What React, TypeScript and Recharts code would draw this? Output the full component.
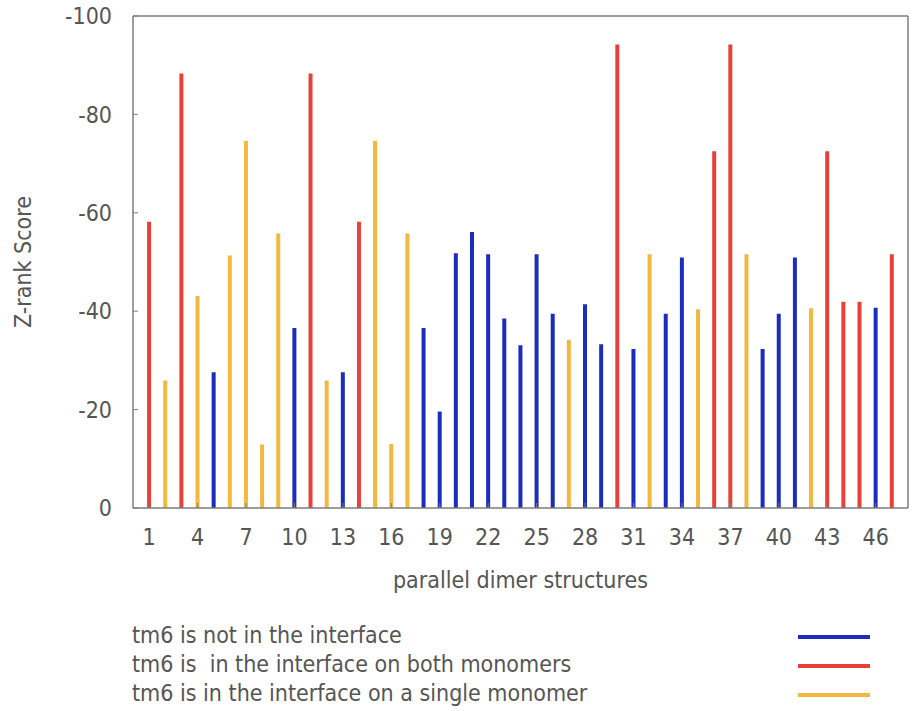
import { BarChart, Bar, Cell, XAxis, YAxis, Legend } from "recharts";

// Z-rank score of each parallel dimer structure (1..47), read left to right
const zrankScores = [
  -58.2, -25.9, -88.3, -43.1, -27.6, -51.3, -74.6, -12.9, -55.8, -36.6,
  -88.3, -25.9, -27.6, -58.2, -74.6, -13.0, -55.8, -36.6, -19.6, -51.8,
  -56.1, -51.6, -38.5, -33.1, -51.6, -39.5, -34.2, -41.4, -33.3, -94.2,
  -32.3, -51.6, -39.5, -50.9, -40.4, -72.5, -94.2, -51.6, -32.3, -39.5,
  -50.9, -40.6, -72.5, -41.9, -41.9, -40.7, -51.6,
];

// where tm6 sits: N = not in interface, B = both monomers, S = single monomer
const tm6Groups = [
  "B", "S", "B", "S", "N", "S", "S", "S", "S", "N",
  "B", "S", "N", "B", "S", "S", "S", "N", "N", "N",
  "N", "N", "N", "N", "N", "N", "S", "N", "N", "B",
  "N", "S", "N", "N", "S", "B", "B", "S", "N", "N",
  "N", "S", "B", "B", "B", "N", "B",
];

const groupKeys = ["N", "B", "S"];
const groupLabels = [
  "tm6 is not in the interface",
  "tm6 is  in the interface on both monomers",
  "tm6 is in the interface on a single monomer",
];
const groupColors = ["#1c2dbd", "#e8413a", "#f4b740"];

const xTicks = [1, 4, 7, 10, 13, 16, 19, 22, 25, 28, 31, 34, 37, 40, 43, 46];
const yTicks = [-100, -80, -60, -40, -20, 0];

const FONT = "'DejaVu Sans Condensed', 'DejaVu Sans', sans-serif";
const FONT_SIZE = 23;
const TEXT = "#555";
const FRAME = "#7d7d7d";

const rows = zrankScores.map((score, i) => ({
  id: i + 1,
  score,
  group: tm6Groups[i],
}));

const colorFor = (g: string) => groupColors[groupKeys.indexOf(g)];

function KeyBox() {
  return (
    <div style={{ fontFamily: FONT, fontSize: FONT_SIZE, color: TEXT }}>
      {groupLabels.map((label, i) => (
        <div key={label} style={{ position: "relative", height: 29 }}>
          <span
            style={{
              position: "absolute",
              left: 132,
              top: 0,
              lineHeight: "29px",
              whiteSpace: "pre",
            }}
          >
            {label}
          </span>
          <span
            style={{
              position: "absolute",
              left: 798,
              top: 14,
              width: 72,
              height: 4,
              background: groupColors[i],
            }}
          />
        </div>
      ))}
    </div>
  );
}

export default function App() {
  const tickStyle = { fontFamily: FONT, fontSize: FONT_SIZE, fill: TEXT };
  return (
    <div style={{ position: "absolute", left: 0, top: 0, background: "#fff" }}>
      <BarChart
        width={912}
        height={711}
        data={rows}
        margin={{ top: 15, right: 3, bottom: 59, left: 0 }}
      >
        <XAxis
          xAxisId="bottom"
          dataKey="id"
          type="number"
          domain={[0, 48]}
          ticks={xTicks}
          interval={0}
          height={144}
          tick={tickStyle}
          tickSize={-5}
          tickMargin={26}
          axisLine={{ stroke: FRAME, strokeWidth: 1.5 }}
          tickLine={{ stroke: FRAME }}
          label={{
            value: "parallel dimer structures",
            position: "center",
            style: { fontFamily: FONT, fontSize: FONT_SIZE, fill: TEXT },
          }}
        />
        {/* mirrored frame: top and right edges with inward ticks */}
        <XAxis
          xAxisId="top"
          orientation="top"
          dataKey="id"
          type="number"
          domain={[0, 48]}
          ticks={xTicks}
          interval={0}
          height={1}
          tick={false}
          tickSize={-5}
          axisLine={{ stroke: FRAME, strokeWidth: 1.5 }}
          tickLine={{ stroke: FRAME }}
        />
        <YAxis
          yAxisId="left"
          type="number"
          domain={[-100, 0]}
          ticks={yTicks}
          reversed
          width={133}
          tick={tickStyle}
          tickSize={-5}
          tickMargin={26}
          axisLine={{ stroke: FRAME, strokeWidth: 1.5 }}
          tickLine={{ stroke: FRAME }}
          label={{
            value: "Z-rank Score",
            angle: -90,
            position: "center",
            dx: -44,
            style: { fontFamily: FONT, fontSize: FONT_SIZE, fill: TEXT },
          }}
        />
        <YAxis
          yAxisId="right"
          orientation="right"
          type="number"
          domain={[-100, 0]}
          ticks={yTicks}
          reversed
          width={1}
          tick={false}
          tickSize={-5}
          axisLine={{ stroke: FRAME, strokeWidth: 1.5 }}
          tickLine={{ stroke: FRAME }}
        />
        <Bar
          dataKey="score"
          xAxisId="bottom"
          yAxisId="left"
          barSize={4}
          isAnimationActive={false}
        >
          {rows.map((r) => (
            <Cell key={r.id} fill={colorFor(r.group)} />
          ))}
        </Bar>
        <Legend
          layout="vertical"
          align="center"
          verticalAlign="middle"
          content={() => <KeyBox />}
          wrapperStyle={{ left: 0, top: 621, width: 912 }}
        />
      </BarChart>
    </div>
  );
}
